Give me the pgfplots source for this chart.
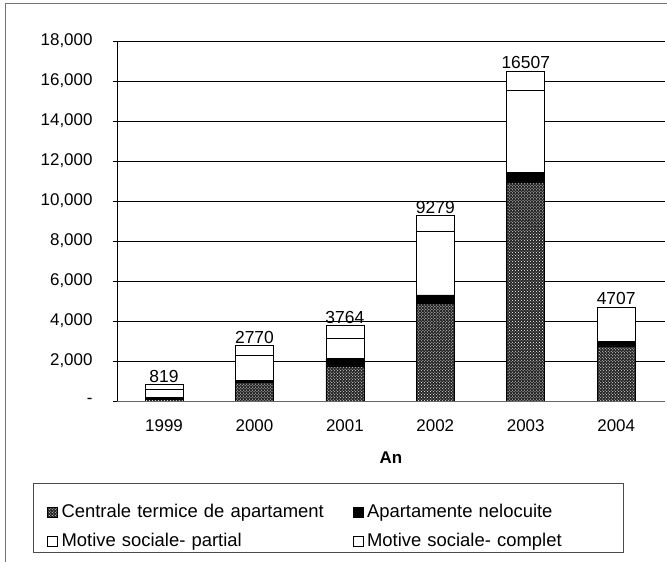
\documentclass[border=0pt]{standalone}
\usepackage{fontspec}
\setmainfont{Liberation Sans}
\usepackage{pgfplots}
\pgfplotsset{compat=1.18}
\usetikzlibrary{patterns}

% dark speckled fill for the first series
\tikzset{speckle/.style={fill=black!85, postaction={pattern=crosshatch dots, pattern color=white}}}

\begin{document}
\begin{tikzpicture}
\useasboundingbox (0,0) rectangle (667bp,562bp);
% chart frame and legend frame
\draw[black!55, line width=0.7bp] (5bp,0) -- (5bp,559bp) -- (667bp,559bp);
\draw[black!70, line width=0.6bp] (33bp,10bp) rectangle (623bp,79bp);
\begin{axis}[
    at={(117bp,161bp)}, anchor=south west,
    scale only axis,
    width=548bp, height=360bp,
    ybar stacked,
    bar width=38bp,
    xmin=-0.52, xmax=5.54,
    ymin=0, ymax=18000,
    xtick={0,1,2,3,4,5},
    xticklabels={1999,2000,2001,2002,2003,2004},
    ytick={0,2000,...,18000},
    yticklabels={-,{2,000},{4,000},{6,000},{8,000},{10,000},{12,000},{14,000},{16,000},{18,000}},
    scaled y ticks=false,
    axis lines*=left,
    x axis line style={black!60},
    y axis line style={black, line width=0.8bp},
    tick align=outside,
    major tick length=4bp,
    xtick style={draw=none},
    ytick style={black},
    ymajorgrids,
    grid style={black, line width=0.6bp},
    font=\fontsize{17}{19}\selectfont,
    /pgf/number format/assume math mode=true,
    yticklabel style={xshift=-17bp},
    xticklabel style={yshift=-11bp},
    xlabel={\textbf{An}},
    xlabel style={yshift=-13bp},
    legend columns=2,
    legend style={at={(axis description cs:-0.128,-0.288)}, anchor=north west,
        draw=none, fill=none, inner sep=0pt, row sep=12bp, column sep=4bp,
        font=\fontsize{18.5}{20}\selectfont,
        nodes={text width=287bp, align=left, text height=13bp, text depth=4bp, inner sep=0pt}},
    legend image code/.code={\draw[#1, draw=black, line width=0.5bp] (0bp,-4bp) rectangle (10bp,6bp);},
]
\addplot[speckle, draw=black, line width=0.6bp] coordinates {(0,90) (1,950) (2,1750) (3,4880) (4,10950) (5,2750)};
\addlegendentry{Centrale termice de apartament}
\addplot[fill=black, draw=black, line width=0.6bp] coordinates {(0,80) (1,60) (2,380) (3,420) (4,470) (5,220)};
\addlegendentry{Apartamente nelocuite}
\addplot[fill=white, draw=black, line width=0.6bp] coordinates {(0,430) (1,1290) (2,990) (3,3160) (4,4100) (5,1737)};
\addlegendentry{Motive sociale- partial}
\addplot[fill=white, draw=black, line width=0.6bp] coordinates {(0,219) (1,470) (2,644) (3,819) (4,987) (5,0)};
\addlegendentry{Motive sociale- complet}
% totals written on top of each stack
\addplot[draw=none, fill=none, forget plot,
    point meta=explicit,
    nodes near coords={\pgfmathprintnumber[fixed,precision=0,1000 sep={}]{\pgfplotspointmeta}},
    every node near coord/.append style={font=\fontsize{17.5}{19}\selectfont, anchor=south, inner sep=1bp, yshift=1bp}]
    coordinates {(0,1) [819] (1,1) [2770] (2,1) [3764] (3,1) [9279] (4,1) [16507] (5,1) [4707]};
\end{axis}
\end{tikzpicture}
\end{document}
